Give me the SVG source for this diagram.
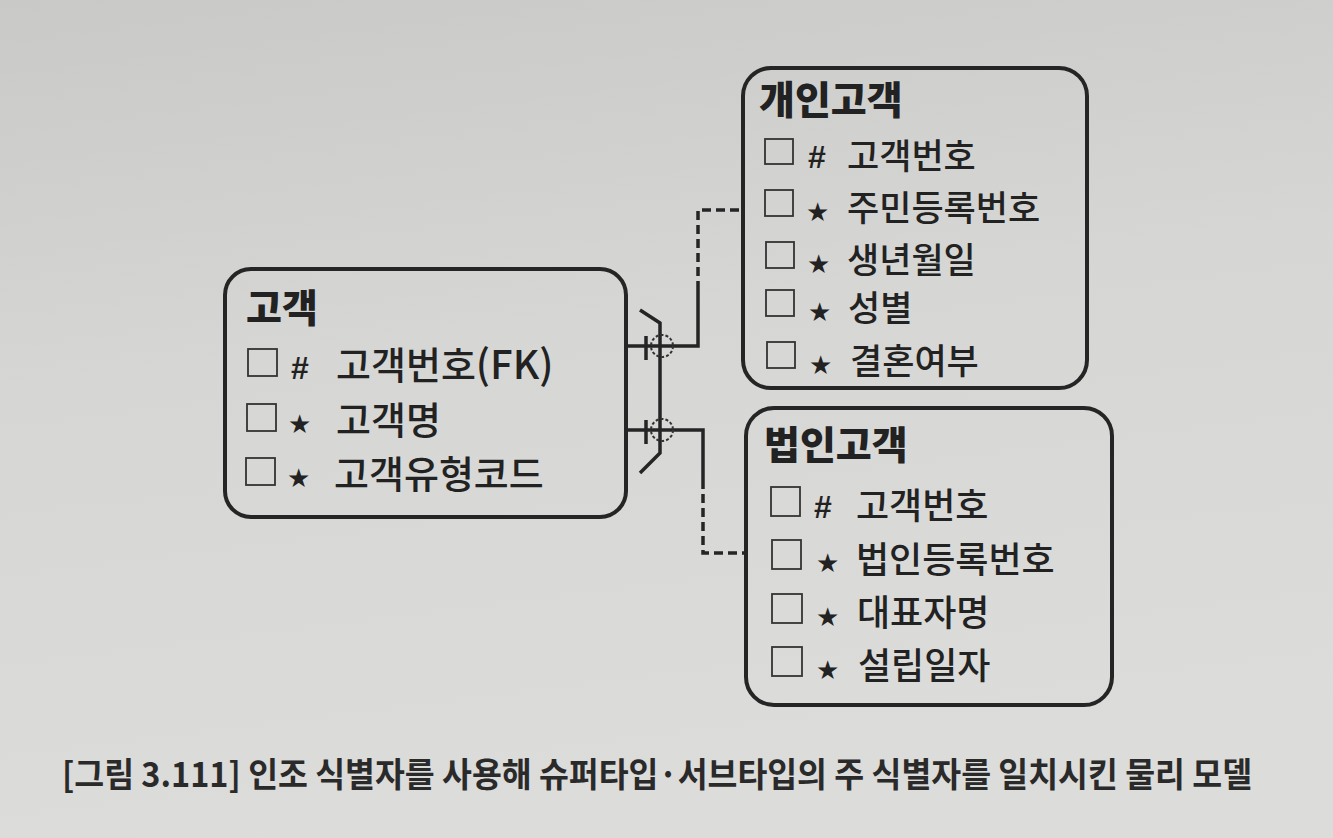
<svg xmlns="http://www.w3.org/2000/svg" width="1333" height="838" viewBox="0 0 1333 838">
<defs>
<linearGradient id="bg" x1="0" y1="0" x2="0.2" y2="1">
<stop offset="0" stop-color="#c9c9c7"/>
<stop offset="0.45" stop-color="#d6d6d4"/>
<stop offset="1" stop-color="#dcdcda"/>
</linearGradient>
<style>
.box{fill:none;stroke:#252525;stroke-width:4}
.t{font-family:"Noto Sans CJK KR","Noto Sans",sans-serif;fill:#222}
.title{font-size:39px;font-weight:900}
.row{font-weight:500}
.r1{font-size:38px}
.r2{font-size:35px}
.r3{font-size:36px}
.sq{fill:none;stroke:#333;stroke-width:1.8}
.star{font-family:"DejaVu Sans",sans-serif;font-size:26px;fill:#222}
.hash{font-family:"Liberation Sans",sans-serif;font-size:32px;font-weight:700;fill:#222}
.ln{fill:none;stroke:#252525;stroke-width:3.5}
.dash{fill:none;stroke:#252525;stroke-width:3.5;stroke-dasharray:9 5}
.circ{fill:none;stroke:#333;stroke-width:2;stroke-dasharray:3 2}
.cap{font-family:"Noto Sans CJK KR",sans-serif;font-size:34px;font-weight:700;fill:#2a2a2a}
</style>
</defs>
<rect width="1333" height="838" fill="url(#bg)"/>

<g id="connectors">
<path class="ln" d="M627,346 H698 V290"/>
<path class="dash" d="M698,290 V210 H743"/>
<path class="ln" d="M627,430 H703 V480"/>
<path class="dash" d="M703,480 V553 H745"/>
<path class="ln" d="M640,310 L660,323 V453 L640,473"/>
<path class="ln" d="M646,336 V360 M646,420 V444"/>
<circle class="circ" cx="662" cy="346" r="11"/>
<circle class="circ" cx="662" cy="430" r="11"/>
</g>

<g id="customer">
<rect class="box" x="225" y="269" width="401" height="248" rx="26"/>
<text class="t title" x="246" y="322">고객</text>
<rect class="sq" x="248" y="349" width="29" height="27"/>
<text class="hash" x="291" y="379">#</text>
<text class="t row r1" x="336" y="379">고객번호<tspan font-size="40px">(FK)</tspan></text>
<rect class="sq" x="247" y="404" width="29" height="27"/>
<text class="star" x="288" y="433">★</text>
<text class="t row r1" x="336" y="434">고객명</text>
<rect class="sq" x="246" y="458" width="29" height="27"/>
<text class="star" x="287" y="487">★</text>
<text class="t row r1" x="334" y="488">고객유형코드</text>
</g>

<g id="individual">
<rect class="box" x="743" y="68" width="344" height="320" rx="28"/>
<text class="t title" x="759" y="114">개인고객</text>
<rect class="sq" x="765" y="139" width="28" height="25"/>
<text class="hash" x="808" y="168">#</text>
<text class="t row r2" x="847" y="169">고객번호</text>
<rect class="sq" x="765" y="190" width="28" height="26"/>
<text class="star" x="806" y="221">★</text>
<text class="t row r2" x="847" y="221">주민등록번호</text>
<rect class="sq" x="766" y="242" width="28" height="26"/>
<text class="star" x="807" y="273">★</text>
<text class="t row r2" x="847" y="273">생년월일</text>
<rect class="sq" x="766" y="290" width="28" height="26"/>
<text class="star" x="808" y="321">★</text>
<text class="t row r2" x="848" y="321">성별</text>
<rect class="sq" x="767" y="342" width="28" height="26"/>
<text class="star" x="809" y="374">★</text>
<text class="t row r2" x="850" y="374">결혼여부</text>
</g>

<g id="corporate">
<rect class="box" x="746" y="408" width="366" height="297" rx="28"/>
<text class="t title" x="764" y="459">법인고객</text>
<rect class="sq" x="771" y="487" width="29" height="29"/>
<text class="hash" x="814" y="518">#</text>
<text class="t row r3" x="856" y="519">고객번호</text>
<rect class="sq" x="772" y="540" width="29" height="29"/>
<text class="star" x="816" y="572">★</text>
<text class="t row r3" x="856" y="573">법인등록번호</text>
<rect class="sq" x="772" y="594" width="30" height="29"/>
<text class="star" x="816" y="626">★</text>
<text class="t row r3" x="857" y="626">대표자명</text>
<rect class="sq" x="772" y="647" width="30" height="29"/>
<text class="star" x="816" y="679">★</text>
<text class="t row r3" x="858" y="679">설립일자</text>
</g>

<text class="cap" x="62" y="787" textLength="1190" lengthAdjust="spacingAndGlyphs">[그림 3.111] 인조 식별자를 사용해 슈퍼타입·서브타입의 주 식별자를 일치시킨 물리 모델</text>
</svg>
